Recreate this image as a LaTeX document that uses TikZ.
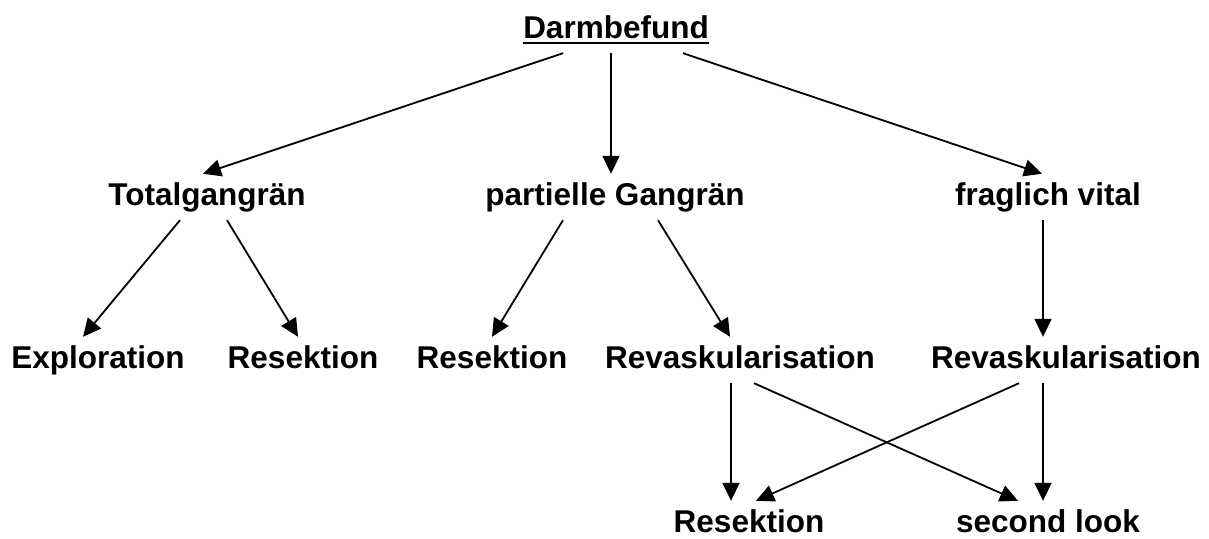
\documentclass[tikz,border=0pt]{standalone}
\usepackage{fontspec}
\setmainfont{Liberation Sans}
\usetikzlibrary{arrows.meta}
\begin{document}
\begin{tikzpicture}[
    every node/.style={font=\fontsize{31.5}{36}\selectfont\bfseries,
      anchor=base, text height=23pt, text depth=7pt, inner xsep=0pt, inner ysep=8pt},
    arr/.style={-{Triangle[length=18pt,width=17pt]}, line width=1.8pt}]
    \def\x{1pt}
    \def\y{-1pt}
    \useasboundingbox (0,0) rectangle (1209*\x, 538*\y);
    \node (top) at (616*\x, 38*\y) {Darmbefund};
    \node (tg) at (207*\x, 205*\y) {Totalgangrän};
    \node (pg) at (615*\x, 205*\y) {partielle Gangrän};
    \node (fv) at (1048*\x, 205*\y) {fraglich vital};
    \node (ex) at (98*\x, 368*\y) {Exploration};
    \node (rs1) at (303*\x, 368*\y) {Resektion};
    \node (rs2) at (492*\x, 368*\y) {Resektion};
    \node (rv1) at (740*\x, 368*\y) {Revaskularisation};
    \node (rv2) at (1066*\x, 368*\y) {Revaskularisation};
    \node (rs3) at (749*\x, 532*\y) {Resektion};
    \node (sl) at (1048*\x, 532*\y) {second look};
    \draw [line width=2.5pt] ([yshift=-5pt]top.base west) -- ([yshift=-5pt]top.base east);
    \path ([xshift=-53pt]top.south) edge [arr] ([xshift=-4pt]tg.north);
    \path ([xshift=-5pt]top.south) edge [arr] ([xshift=-4pt]pg.north);
    \path ([xshift=67pt]top.south) edge [arr] ([xshift=-6pt]fv.north);
    \path ([xshift=-27pt]tg.south) edge [arr] ([xshift=-15pt]ex.north);
    \path ([xshift=20pt]tg.south) edge [arr] ([xshift=-5pt]rs1.north);
    \path ([xshift=-52pt]pg.south) edge [arr] (rs2.north);
    \path ([xshift=43pt]pg.south) edge [arr] ([xshift=-10pt]rv1.north);
    \path ([xshift=-5pt]fv.south) edge [arr] ([xshift=-23pt]rv2.north);
    \path ([xshift=-9pt]rv1.south) edge [arr] ([xshift=-18pt]rs3.north);
    \path ([xshift=14pt]rv1.south) edge [arr] ([xshift=-30pt]sl.north);
    \path ([xshift=-47pt]rv2.south) edge [arr] ([xshift=7pt]rs3.north);
    \path ([xshift=-23pt]rv2.south) edge [arr] ([xshift=-5pt]sl.north);
  \end{tikzpicture}
\end{document}
